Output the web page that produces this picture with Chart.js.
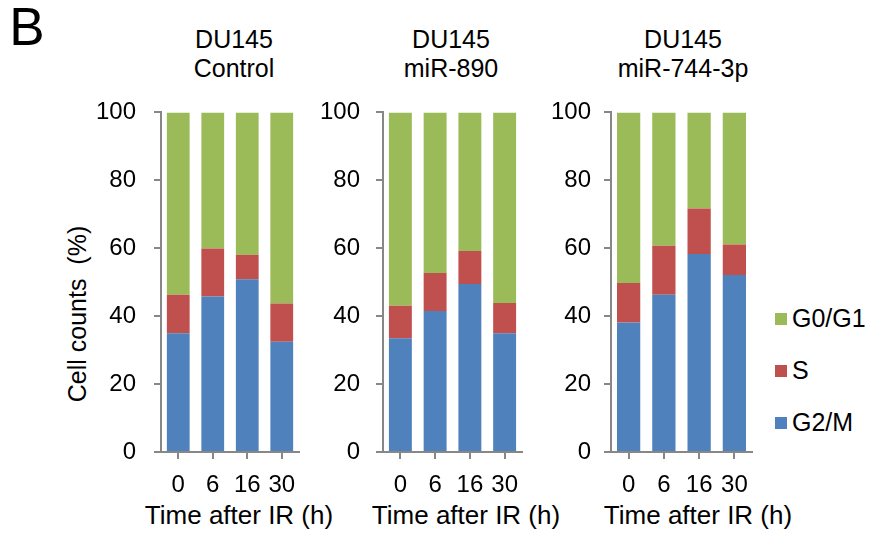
<!DOCTYPE html>
<html>
<head>
<meta charset="utf-8">
<title>DU145 cell cycle after IR</title>
<script src="https://cdn.jsdelivr.net/npm/chart.js@4.4.1/dist/chart.umd.min.js"></script>
<style>
  body { margin: 0; background: #fff; }
  #fig {
    position: relative; width: 875px; height: 534px; overflow: hidden;
    font-family: "Liberation Sans", Arial, sans-serif; color: #000;
  }
  #fig canvas { position: absolute; }
  .lbl { position: absolute; line-height: 1; white-space: pre; transform: translate(-50%, -50%); }
  .leg { position: absolute; line-height: 1; white-space: pre; transform: translate(0, -50%); font-size: 25px; }
  .sw { position: absolute; width: 12px; height: 12px; transform: translate(0, -50%); }
</style>
</head>
<body>
<div id="fig">
  <div class="lbl" style="left:27px; top:26px; font-size:53px;">B</div>
  <div class="lbl" style="left:77px; top:314px; font-size:25px; transform:translate(-50%,-50%) rotate(-90deg);">Cell counts  (%)</div>
</div>
<script>
// time points (h) and y ticks
const timePoints = ['0', '6', '16', '30'];
const yTicks = [0, 20, 40, 60, 80, 100];

// stacking order: bottom to top
const phaseNames = ['G2/M', 'S', 'G0/G1'];
const phaseColors = ['#4f81bd', '#c0504d', '#9bbb59'];

// % of cells in each phase
const controlG2M = [35.0, 45.8, 50.9, 32.5];
const controlS = [11.3, 14.1, 7.2, 11.2];
const controlG0G1 = [53.7, 40.1, 41.9, 56.3];

const mir890G2M = [33.5, 41.5, 49.5, 35.0];
const mir890S = [9.6, 11.2, 9.7, 8.9];
const mir890G0G1 = [56.9, 47.3, 40.8, 56.1];

const mir744G2M = [38.1, 46.3, 58.3, 52.1];
const mir744S = [11.7, 14.4, 13.4, 9.0];
const mir744G0G1 = [50.2, 39.3, 28.3, 38.9];

const FONT = '"Liberation Sans", Arial, sans-serif';
const AXIS = '#878787';
const PLOT_TOP = 112;
const PLOT_BOTTOM = 452;
const CANVAS_H = 420;
const X_AXIS_H = 58;
const AXIS_W = 75;
const PAD_R = 10;

const panels = [
  { title: ['DU145', 'Control'], series: [controlG2M, controlS, controlG0G1],
    left: 161, right: 299, titleX: 234, xTitleX: 239, tickPad: 18 },
  { title: ['DU145', 'miR-890'], series: [mir890G2M, mir890S, mir890G0G1],
    left: 383, right: 522, titleX: 451, xTitleX: 466, tickPad: 16 },
  { title: ['DU145', 'miR-744-3p'], series: [mir744G2M, mir744S, mir744G0G1],
    left: 611, right: 752, titleX: 683, xTitleX: 698, tickPad: 13 }
];

const fig = document.getElementById('fig');

function addLabel(text, x, y, size) {
  const el = document.createElement('div');
  el.className = 'lbl';
  el.textContent = text;
  el.style.left = x + 'px';
  el.style.top = y + 'px';
  el.style.fontSize = size + 'px';
  fig.appendChild(el);
}

function drawPanel(p, height) {
  const canvas = document.createElement('canvas');
  canvas.width = p.right - p.left + AXIS_W + PAD_R;
  canvas.height = height;
  canvas.style.left = (p.left - AXIS_W) + 'px';
  fig.appendChild(canvas);

  return new Chart(canvas, {
    type: 'bar',
    data: {
      labels: timePoints,
      datasets: p.series.map((vals, i) => ({
        label: phaseNames[i],
        data: vals,
        backgroundColor: phaseColors[i],
        borderWidth: 0,
        barPercentage: 0.66,
        categoryPercentage: 1
      }))
    },
    options: {
      responsive: false,
      animation: false,
      layout: { padding: { top: 20, right: PAD_R, left: 0, bottom: 0 } },
      plugins: {
        legend: { display: false },
        tooltip: { enabled: false }
      },
      scales: {
        x: {
          stacked: true,
          grid: { offset: false, drawOnChartArea: false, tickLength: 7, color: AXIS, lineWidth: 2 },
          border: { color: AXIS, width: 2 },
          ticks: { color: '#000', font: { family: FONT, size: 24 }, padding: 12, maxRotation: 0, autoSkip: false },
          afterFit: s => { s.height = X_AXIS_H }
        },
        y: {
          stacked: true,
          min: 0,
          max: 100,
          afterBuildTicks: s => { s.ticks = yTicks.map(v => ({ value: v })) },
          grid: { drawOnChartArea: false, tickLength: 7, color: AXIS, lineWidth: 2 },
          border: { color: AXIS, width: 2 },
          ticks: { color: '#000', font: { family: FONT, size: 24 }, padding: p.tickPad },
          afterFit: s => { s.width = AXIS_W }
        }
      }
    }
  });
}

panels.forEach(p => {
  addLabel(p.title[0], p.titleX, 39, 25);
  addLabel(p.title[1], p.titleX, 67.5, 25);
  addLabel('Time after IR (h)', p.xTitleX, 515, 26);

  // the layout eats some height for label overhang; grow the canvas so
  // every panel gets the same plot height, then line the plots up
  let chart = drawPanel(p, CANVAS_H);
  const a = chart.chartArea;
  const extra = Math.round((PLOT_BOTTOM - PLOT_TOP) - (a.bottom - a.top));
  if (extra !== 0) {
    const old = chart.canvas;
    chart.destroy();
    old.remove();
    chart = drawPanel(p, CANVAS_H + extra);
  }
  chart.canvas.style.top = (PLOT_TOP - chart.chartArea.top) + 'px';
});

// legend, top to bottom in the same order as the stack
const legendY = [318, 370, 422];
phaseNames.slice().reverse().forEach((name, k) => {
  const sw = document.createElement('div');
  sw.className = 'sw';
  sw.style.left = '775px';
  sw.style.top = (legendY[k] + 1) + 'px';
  sw.style.background = phaseColors[phaseNames.length - 1 - k];
  fig.appendChild(sw);
  const t = document.createElement('div');
  t.className = 'leg';
  t.textContent = name;
  t.style.left = '792px';
  t.style.top = legendY[k] + 'px';
  fig.appendChild(t);
});
</script>
</body>
</html>
